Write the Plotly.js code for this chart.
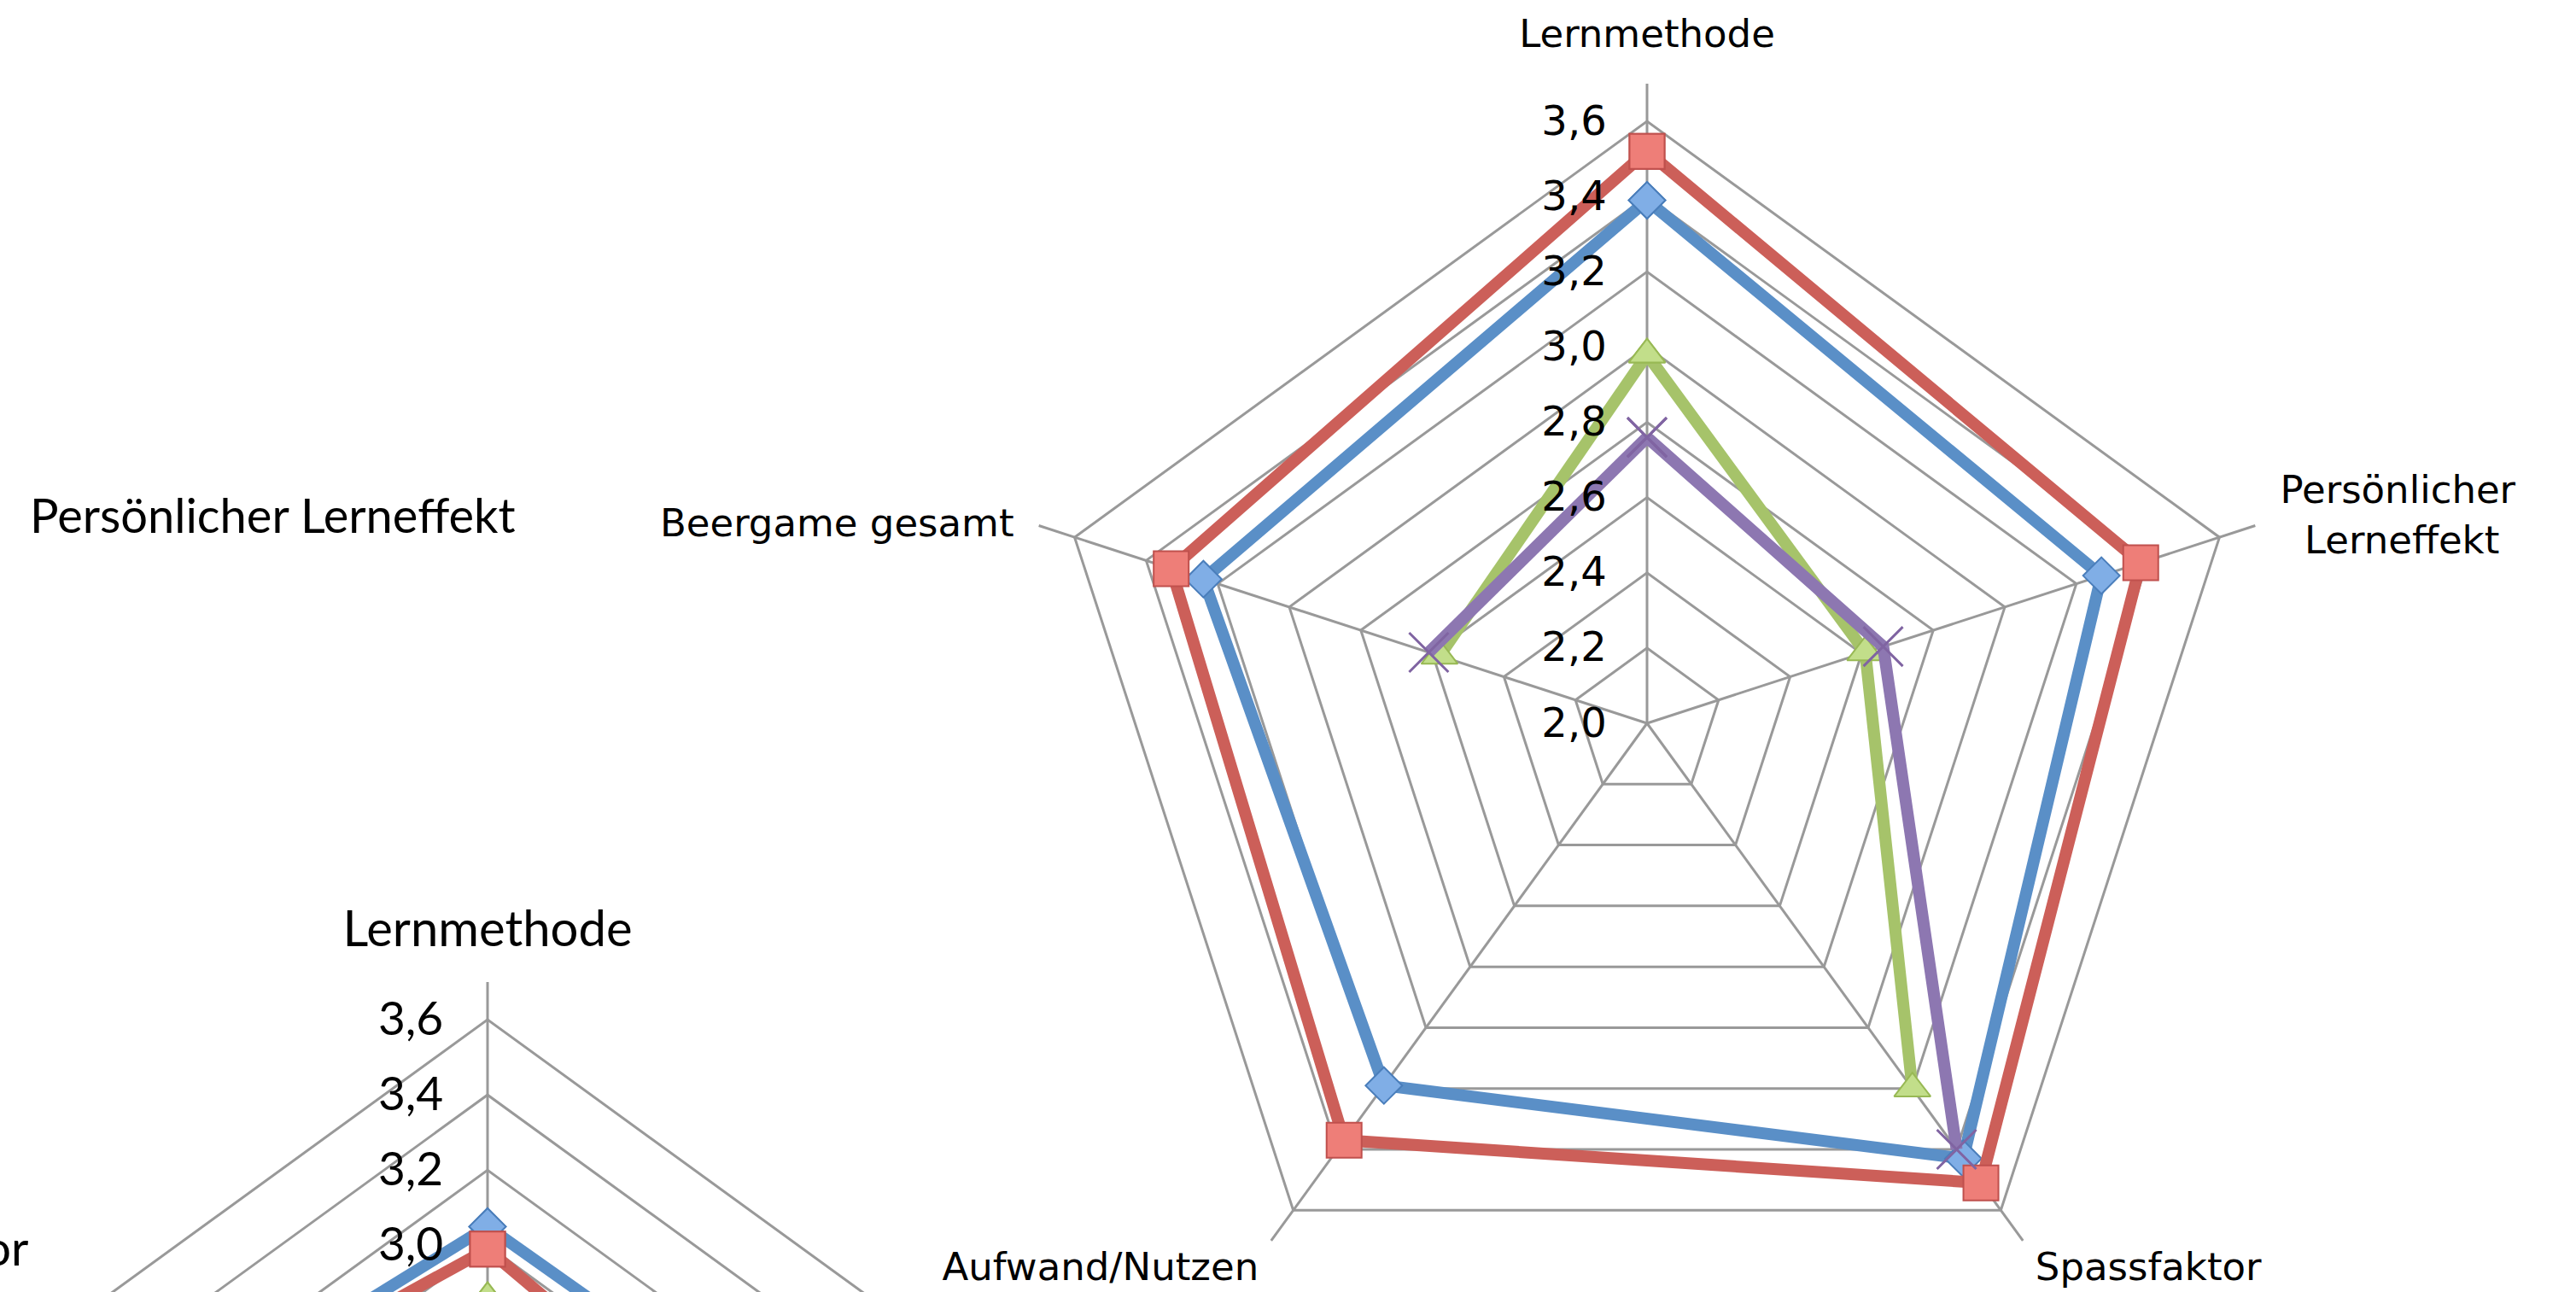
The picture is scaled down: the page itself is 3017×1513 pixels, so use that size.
<!DOCTYPE html>
<html>
<head>
<meta charset="utf-8">
<script src="https://cdn.plot.ly/plotly-3.0.1.min.js"></script>
<style>
  html, body { margin:0; padding:0; overflow:hidden; width:3017px; height:1513px; background:#fff; }
  #plot { position:absolute; left:-200px; top:0; width:3217px; height:2700px; }
</style>
</head>
<body>
<div id="plot"></div>
<script>
// ---- data ----
const categories = ["Lernmethode", "Persönlicher Lerneffekt", "Spassfaktor", "Aufwand/Nutzen", "Beergame gesamt"];
const mainTickLabels = [
  "<span style='baseline-shift:34px'>Lernmethode</span>",
  "\u00a0\u00a0Persönlicher<br>\u00a0\u00a0\u00a0\u00a0Lerneffekt",
  "\u00a0Spassfaktor",
  "Aufwand/Nutzen\u00a0",
  "Beergame gesamt\u00a0\u00a0"
];
const lowerTickLabels = [
  "<span style='baseline-shift:30px'>Lernmethode</span>",
  "Persönlicher Lerneffekt", "Spassfaktor", "Aufwand/Nutzen", "Beergame gesamt"
];
const radialTicks = [2.0, 2.2, 2.4, 2.6, 2.8, 3.0, 3.2, 3.4, 3.6];

// main (right) chart
const mainBlue   = [3.39, 3.27, 3.43, 3.19, 3.24];
const mainRed    = [3.52, 3.38, 3.51, 3.37, 3.33];
const mainGreen  = [2.98, 2.61, 3.20, null, 2.58];
const mainPurple = [2.76, 2.66, 3.40, null, 2.61];

// lower-left chart (mostly outside the picture)
const lowerBlue  = [3.05, 3.07, null, null, 3.17];
const lowerRed   = [2.99, 2.89, null, null, 3.19];
const lowerGreen = [2.86, null, null, null, null];

// stray labels of a third chart further left
const strayLabels = ["Persönlicher Lerneffekt", "Spassfaktor"];

// ---- layout helpers ----
const OFFX = 200, W = 3217, H = 2700, R = 749;
function dom(cx, cy) {
  return { x: [(cx + OFFX - R) / W, (cx + OFFX + R) / W], y: [1 - (cy + R) / H, 1 - (cy - R) / H] };
}
const close = a => a.concat([a[0]]);
const theta = close(categories);

const styles = {
  blue:   { line: '#5A8FC7', marker: { symbol: 'diamond', size: 33, color: '#80AEE6', line: { color: '#4A7EBB', width: 2 } } },
  red:    { line: '#CC5F59', marker: { symbol: 'square', size: 41, color: '#EE7E78', line: { color: '#C0504D', width: 2 } } },
  green:  { line: '#A6C36A', marker: { symbol: 'triangle-up', size: 37, color: '#C2DE8A', line: { color: '#98B954', width: 2 } } },
  purple: { line: '#8D77B1', marker: { symbol: 'x-thin-open', size: 46, color: '#8064A2', line: { color: '#8064A2', width: 3 } } }
};

function tr(vals, st, subplot) {
  return {
    type: 'scatterpolar', mode: 'lines+markers', subplot: subplot,
    r: close(vals), theta: theta, connectgaps: false,
    line: { color: styles[st].line, width: 14 },
    marker: styles[st].marker,
    hoverinfo: 'skip'
  };
}

const data = [
  tr(mainBlue, 'blue', 'polar'), tr(mainRed, 'red', 'polar'),
  tr(mainGreen, 'green', 'polar'), tr(mainPurple, 'purple', 'polar'),
  tr(lowerBlue, 'blue', 'polar2'), tr(lowerRed, 'red', 'polar2'),
  tr(lowerGreen, 'green', 'polar2')
];

function polarCfg(d, fam, fs, rfs, labels, standoff) {
  return {
    domain: d,
    gridshape: 'linear',
    bgcolor: 'rgba(0,0,0,0)',
    radialaxis: {
      range: [2.0, 3.7], tickvals: radialTicks, tickformat: '.1f',
      angle: 90, side: 'counterclockwise', tickangle: 90,
      showline: false, ticks: 'outside', ticklen: standoff, tickcolor: 'rgba(0,0,0,0)',
      showgrid: true, gridcolor: '#999999', gridwidth: 3,
      tickfont: { family: fam, size: rfs, color: '#000' }
    },
    angularaxis: {
      type: 'category', categoryarray: categories,
      tickmode: 'array', tickvals: categories, ticktext: labels,
      direction: 'clockwise', rotation: 90,
      showline: false, ticks: '', showgrid: true,
      gridcolor: '#999999', gridwidth: 3,
      tickfont: { family: fam, size: fs, color: '#000' }
    }
  };
}

const layout = {
  width: W, height: H,
  margin: { l: 0, r: 0, t: 0, b: 0 },
  paper_bgcolor: '#fff',
  separators: ',.',
  showlegend: false,
  polar: polarCfg(dom(1929, 847), 'DejaVu Sans', 45, 48, mainTickLabels, 30),
  polar2: polarCfg(dom(571, 1899), 'Lato', 58, 55, lowerTickLabels, 32),
  annotations: [
    { text: strayLabels[0], xref: 'paper', yref: 'paper', x: (33 + OFFX) / W, y: 1 - 602 / H,
      xanchor: 'left', yanchor: 'middle', showarrow: false,
      font: { family: 'Lato', size: 56, color: '#000' } },
    { text: strayLabels[1], xref: 'paper', yref: 'paper', x: (35 + OFFX) / W, y: 1 - 1460 / H,
      xanchor: 'right', yanchor: 'middle', showarrow: false,
      font: { family: 'Lato', size: 56, color: '#000' } }
  ]
};

Plotly.newPlot('plot', data, layout, { staticPlot: true, displayModeBar: false });
</script>
</body>
</html>
